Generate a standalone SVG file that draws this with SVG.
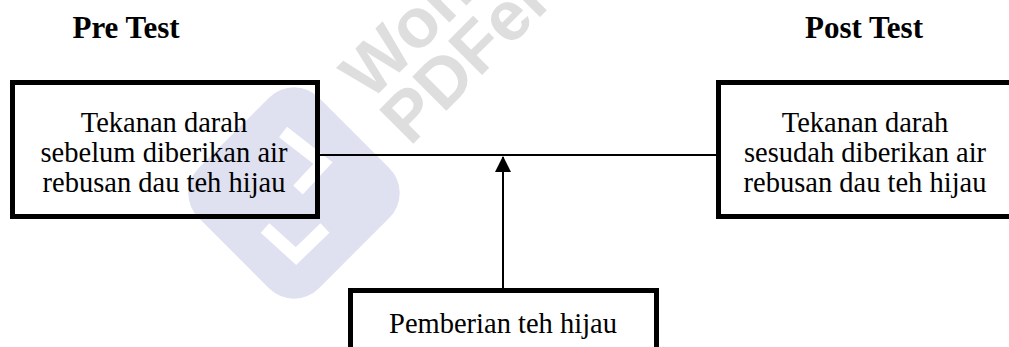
<svg xmlns="http://www.w3.org/2000/svg" width="1009" height="347" viewBox="0 0 1009 347">
  <style>
    .head { font-family: "Liberation Serif", "Times New Roman", serif; font-weight: bold; font-size: 31px; fill: #000; text-anchor: middle; }
    .body { font-family: "Liberation Serif", "Times New Roman", serif; font-size: 28.5px; fill: #000; text-anchor: middle; }
    .box { fill: none; stroke: #000; stroke-width: 5; }
    .wire { fill: none; stroke: #000; stroke-width: 2; }
    .wm { font-family: "Liberation Sans", Arial, sans-serif; font-weight: bold; font-size: 70px; fill: #dedede; }
  </style>
  <defs>
    <marker id="arrow" markerWidth="16" markerHeight="16" refX="15" refY="8" orient="auto" markerUnits="userSpaceOnUse">
      <path d="M0,0 L16,8 L0,16 Z" fill="#000"/>
    </marker>
  </defs>

  <rect width="1009" height="347" fill="#fff"/>

  <!-- background stamp -->
  <g id="stamp">
    <rect x="209" y="108" width="170" height="170" rx="35" fill="#dfe1f1" transform="rotate(45 294 193)"/>
    <polyline points="283,132 323,163 298,190" fill="none" stroke="#fff" stroke-width="13"/>
    <polyline points="265,228 296,256 325,228" fill="none" stroke="#fff" stroke-width="13"/>
    <text class="wm" transform="translate(370 102) rotate(-45)">Wondershare</text>
    <text class="wm" transform="translate(410 147) rotate(-45)">PDFelement</text>
  </g>

  <!-- headings -->
  <text class="head" x="126" y="38">Pre Test</text>
  <text class="head" x="864" y="38">Post Test</text>

  <!-- connectors -->
  <g id="connectors">
    <line class="wire" x1="320" y1="155" x2="716" y2="155"/>
    <line class="wire" x1="503" y1="288" x2="503" y2="157" marker-end="url(#arrow)"/>
  </g>

  <g id="pre">
    <rect class="box" x="12.5" y="82.5" width="305" height="134"/>
    <text class="body" x="164" y="132">Tekanan darah</text>
    <text class="body" x="164" y="162">sebelum diberikan air</text>
    <text class="body" x="164" y="192">rebusan dau teh hijau</text>
  </g>

  <g id="post">
    <rect class="box" x="718.5" y="82.5" width="300" height="134"/>
    <text class="body" x="865" y="132">Tekanan darah</text>
    <text class="body" x="865" y="162">sesudah diberikan air</text>
    <text class="body" x="865" y="192">rebusan dau teh hijau</text>
  </g>

  <g id="treatment">
    <rect class="box" x="350.5" y="290.5" width="306" height="70"/>
    <text class="body" x="503" y="333">Pemberian teh hijau</text>
  </g>
</svg>
